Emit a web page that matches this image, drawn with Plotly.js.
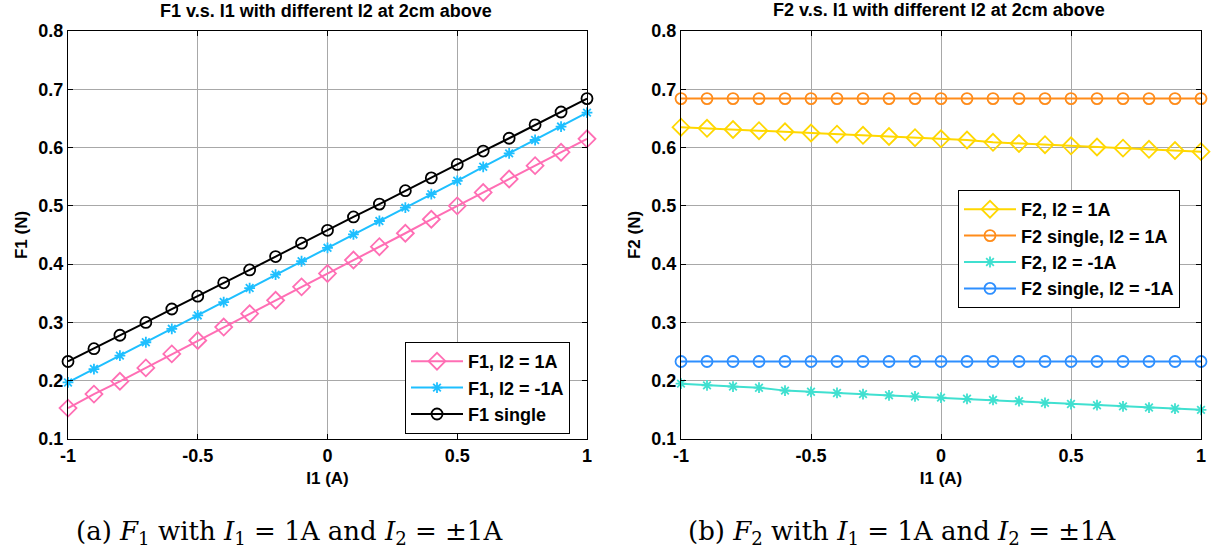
<!DOCTYPE html>
<html><head><meta charset="utf-8">
<script src="https://cdn.plot.ly/plotly-3.0.1.min.js"></script>
<style>html,body{margin:0;padding:0;background:#fff}#chart{width:1217px;height:552px}</style>
</head><body><div id="chart"></div>
<script>
// ---- data ----
const I1 = [-1,-0.9,-0.8,-0.7,-0.6,-0.5,-0.4,-0.3,-0.2,-0.1,0,0.1,0.2,0.3,0.4,0.5,0.6,0.7,0.8,0.9,1];
const F1_I2pos = [0.153,0.177,0.199,0.222,0.246,0.269,0.292,0.315,0.338,0.361,0.384,0.407,0.430,0.453,0.477,0.500,0.523,0.546,0.569,0.592,0.615];
const F1_I2neg = [0.197,0.220,0.243,0.266,0.289,0.312,0.335,0.359,0.382,0.405,0.428,0.451,0.474,0.497,0.520,0.543,0.567,0.590,0.613,0.636,0.660];
const F1_single = [0.233,0.255,0.278,0.300,0.323,0.345,0.368,0.390,0.413,0.436,0.458,0.481,0.503,0.526,0.548,0.571,0.594,0.616,0.639,0.661,0.684];
const F2_I2pos = [0.635,0.633,0.631,0.629,0.627,0.625,0.623,0.621,0.619,0.617,0.615,0.613,0.609,0.607,0.605,0.603,0.601,0.599,0.597,0.595,0.593];
const F2_single_pos = [0.684,0.684,0.684,0.684,0.684,0.684,0.684,0.684,0.684,0.684,0.684,0.684,0.684,0.684,0.684,0.684,0.684,0.684,0.684,0.684,0.684];
const F2_I2neg = [0.195,0.192,0.190,0.188,0.183,0.181,0.179,0.177,0.175,0.173,0.171,0.169,0.167,0.165,0.162,0.160,0.158,0.156,0.154,0.152,0.150];
const F2_single_neg = [0.233,0.233,0.233,0.233,0.233,0.233,0.233,0.233,0.233,0.233,0.233,0.233,0.233,0.233,0.233,0.233,0.233,0.233,0.233,0.233,0.233];
const xTickVals = [-1,-0.5,0,0.5,1];
const xTickText = ["-1","-0.5","0","0.5","1"];
const yTickVals = [0.1,0.2,0.3,0.4,0.5,0.6,0.7,0.8];
const yTickText = ["0.1","0.2","0.3","0.4","0.5","0.6","0.7","0.8"];
const names1 = ["F1, I2 = 1A","F1, I2 = -1A","F1 single"];
const names2 = ["F2, I2 = 1A","F2 single, I2 = 1A","F2, I2 = -1A","F2 single, I2 = -1A"];
const title1 = "F1 v.s. I1 with different I2 at 2cm above";
const title2 = "F2 v.s. I1 with different I2 at 2cm above";
const caption1 = "(a) <i>F</i><sub>1</sub> with <i>I</i><sub>1</sub> = 1A and <i>I</i><sub>2</sub> = ±1A";
const caption2 = "(b) <i>F</i><sub>2</sub> with <i>I</i><sub>1</sub> = 1A and <i>I</i><sub>2</sub> = ±1A";

// ---- styling ----
const SANS = "Liberation Sans, Arial, sans-serif";
function tr(y, name, color, symbol, size, xa, ya, leg) {
  return {
    x: I1, y: y, name: name, type: 'scatter', mode: 'lines+markers',
    xaxis: xa, yaxis: ya, legend: leg, cliponaxis: false,
    line: {color: color, width: 2},
    marker: {symbol: symbol, size: size, color: color, line: {color: color, width: 1.8}}
  };
}
const traces = [
  tr(F1_I2pos, names1[0], '#FF6EB4', 'diamond-open', 13, 'x', 'y', 'legend'),
  tr(F1_I2neg, names1[1], '#1EBFFF', 'asterisk-open', 9, 'x', 'y', 'legend'),
  tr(F1_single, names1[2], '#000000', 'circle-open', 11, 'x', 'y', 'legend'),
  tr(F2_I2pos, names2[0], '#FFD700', 'diamond-open', 13, 'x2', 'y2', 'legend2'),
  tr(F2_single_pos, names2[1], '#FF8C1A', 'circle-open', 11, 'x2', 'y2', 'legend2'),
  tr(F2_I2neg, names2[2], '#40E0D0', 'asterisk-open', 9, 'x2', 'y2', 'legend2'),
  tr(F2_single_neg, names2[3], '#2E8FFF', 'circle-open', 11, 'x2', 'y2', 'legend2')
];

const W = 1217, H = 552;
const yDom = [1 - 439/H, 1 - 31/H];
function xax(dom, anchor) {
  return {
    domain: dom, anchor: anchor, range: [-1, 1], tickvals: xTickVals, ticktext: xTickText,
    ticks: 'inside', ticklen: 5, tickcolor: '#000', mirror: 'ticks', showline: true, linecolor: '#000', linewidth: 1,
    showgrid: true, gridcolor: '#a8a8a8', gridwidth: 1, zeroline: false,
    tickfont: {family: SANS, size: 18, color: '#000', weight: 'bold'},
    title: {text: 'I1 (A)', font: {family: SANS, size: 17, color: '#000', weight: 'bold'}, standoff: 7}
  };
}
function yax(anchor, t) {
  return {
    domain: yDom, anchor: anchor, range: [0.1, 0.8], tickvals: yTickVals, ticktext: yTickText,
    ticks: 'inside', ticklen: 5, tickcolor: '#000', mirror: 'ticks', showline: true, linecolor: '#000', linewidth: 1,
    showgrid: true, gridcolor: '#a8a8a8', gridwidth: 1, zeroline: false,
    tickfont: {family: SANS, size: 18, color: '#000', weight: 'bold'},
    title: {text: t, font: {family: SANS, size: 17, color: '#000', weight: 'bold'}, standoff: 6}
  };
}
const legFont = {family: SANS, size: 18, color: '#000', weight: 'bold'};
const layout = {
  width: W, height: H, margin: {l: 0, r: 0, t: 0, b: 0},
  paper_bgcolor: '#fff', plot_bgcolor: '#fff', showlegend: true,
  xaxis: xax([68/W, 587/W], 'y'),
  yaxis: yax('x', 'F1 (N)'),
  xaxis2: xax([681/W, 1201/W], 'y2'),
  yaxis2: yax('x2', 'F2 (N)'),
  legend: {x: 405/W, y: 1 - 342/H, xanchor: 'left', yanchor: 'top', bgcolor: '#fff', bordercolor: '#000', borderwidth: 1, font: legFont, tracegroupgap: 0, itemwidth: 52},
  legend2: {x: 958/W, y: 1 - 190/H, xanchor: 'left', yanchor: 'top', bgcolor: '#fff', bordercolor: '#000', borderwidth: 1, font: legFont, tracegroupgap: 0, itemwidth: 52},
  annotations: [
    {text: title1, x: 326/W, y: 1 - 11/H, xref: 'paper', yref: 'paper', showarrow: false, xanchor: 'center', yanchor: 'middle', font: {family: SANS, size: 18, color: '#000', weight: 'bold'}},
    {text: title2, x: 939/W, y: 1 - 10/H, xref: 'paper', yref: 'paper', showarrow: false, xanchor: 'center', yanchor: 'middle', font: {family: SANS, size: 18, color: '#000', weight: 'bold'}},
    {text: caption1, x: 289/W, y: 1 - 532/H, xref: 'paper', yref: 'paper', showarrow: false, xanchor: 'center', yanchor: 'middle', font: {family: 'DejaVu Serif, serif', size: 26, color: '#000'}},
    {text: caption2, x: 902/W, y: 1 - 532/H, xref: 'paper', yref: 'paper', showarrow: false, xanchor: 'center', yanchor: 'middle', font: {family: 'DejaVu Serif, serif', size: 26, color: '#000'}}
  ]
};
Plotly.newPlot('chart', traces, layout, {displayModeBar: false, staticPlot: true});
</script>
</body></html>
